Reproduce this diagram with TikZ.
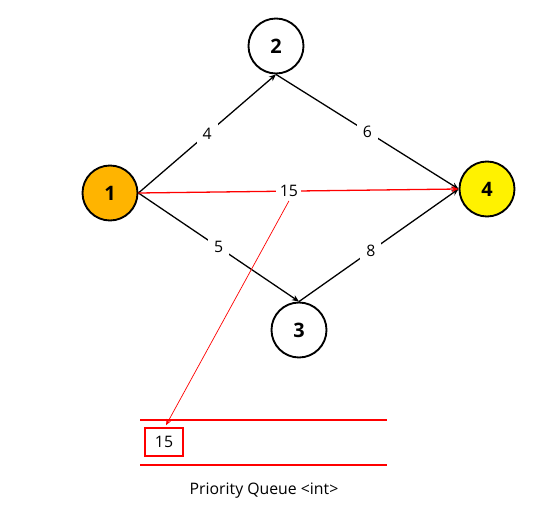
\documentclass[tikz,border=0pt]{standalone}
\usepackage{fontspec}
\setmainfont{Open Sans}
\usetikzlibrary{arrows.meta,positioning,calc}

\begin{document}
\begin{tikzpicture}[
    x=0.03cm, y=-0.03cm,
    vtx/.style={draw, circle, line width=1.6pt, minimum size=1.65cm, inner sep=0pt, font=\fontsize{17}{19}\selectfont\bfseries, fill=white},
    arr/.style={-{Stealth[length=6pt,width=5pt]}, line width=1.1pt},
    rarr/.style={-{Stealth[length=6pt,width=5pt]}, line width=1.1pt, red},
    lbl/.style={font=\fontsize{13.5}{16}\selectfont, text=black, fill=white, inner sep=5pt},
    qline/.style={red, line width=2.4pt}
]
\useasboundingbox (0,0) rectangle (550,511);
\node[vtx, fill={rgb,255:red,255;green,180;blue,0}] (v1) at (110,193) {1};
\node[vtx] (v2) at (276,46) {2};
\node[vtx] (v3) at (299,330) {3};
\node[vtx, fill=yellow] (v4) at (487,189) {4};

\draw[arr] (v1.east) -- node[lbl] {4} (v2.south);
\draw[arr] (v2.south) -- node[lbl] {6} (v4.west);
\draw[arr] (v1.east) -- node[lbl] {5} (v3.north);
\draw[arr] (v3.north) -- node[lbl, pos=0.45] {8} (v4.west);
\draw[rarr] (v1.east) -- node[lbl, pos=0.47, inner sep=3pt] (w15) {15} (v4.west);

% priority queue
\coordinate (qa) at (140,420);
\coordinate (qb) at (387,420);
\coordinate (qc) at (140,465);
\coordinate (qd) at (387,465);
\draw[qline] (qa) -- (qb);
\draw[qline] (qc) -- (qd);
\node[draw=red, line width=1.3pt, minimum width=1.14cm, minimum height=0.84cm, inner sep=0pt, font=\fontsize{13.5}{16}\selectfont] (q15) at (164,442) {15};
\node[font=\fontsize{13.5}{16}\selectfont] (qname) at (264,491) {Priority\ Queue\ <int>};

\draw[red, line width=0.6pt, -{Stealth[length=5pt,width=4pt]}] (w15.south) -- ($(q15.north)+(2,-2)$);
\end{tikzpicture}
\end{document}
